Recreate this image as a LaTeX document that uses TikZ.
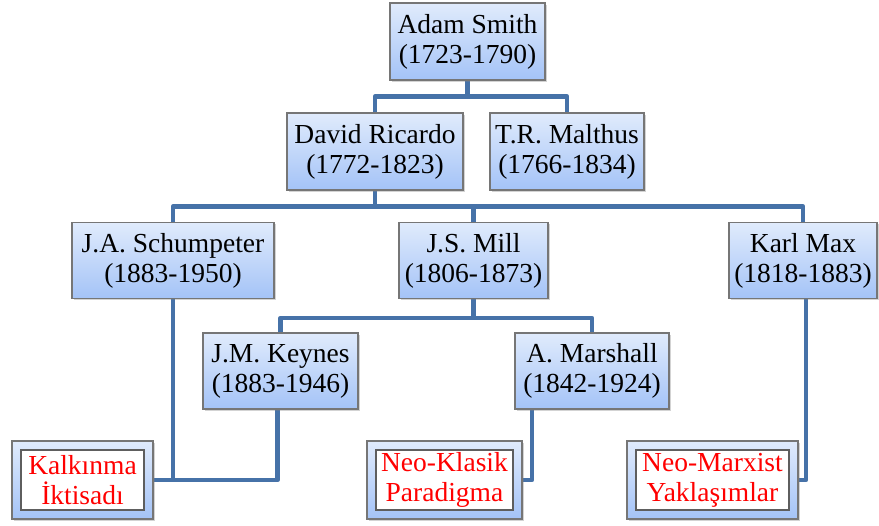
\documentclass[tikz,border=0pt]{standalone}
\usepackage{fontspec}
\setmainfont{Liberation Serif}
\usetikzlibrary{shadows,backgrounds}
\definecolor{conn}{RGB}{70,114,168}
\definecolor{boxtop}{RGB}{224,235,252}
\definecolor{boxbot}{RGB}{164,195,247}
\definecolor{boxedge}{RGB}{118,118,118}
\tikzset{
  person/.style={rectangle, draw=boxedge, line width=1.1pt, top color=boxtop, bottom color=boxbot,
    drop shadow={shadow xshift=2pt, shadow yshift=-2pt, opacity=0.35},
    align=center, inner sep=0pt, minimum height=77pt,
    font=\fontsize{27.5}{30}\selectfont},
  school/.style={person, text=red, minimum height=78pt,
    path picture={\draw[fill=white, draw=boxedge!80!black, line width=1.3pt]
      ([shift={(9pt,-9pt)}]path picture bounding box.north west) rectangle
      ([shift={(-9pt,9pt)}]path picture bounding box.south east);}},
  link/.style={draw=conn, line width=4.5pt, line join=round}
}
\begin{document}
\begin{tikzpicture}[x=1pt,y=-1pt]
\useasboundingbox (0,0) rectangle (879,526);
\node[person, minimum width=155pt] (smith) at (467.5,41.5) {Adam Smith\\(1723-1790)};
\node[person, minimum width=176pt] (ricardo) at (375,151.5) {David Ricardo\\(1772-1823)};
\node[person, minimum width=154pt] (malthus) at (567,151.5) {T.R. Malthus\\(1766-1834)};
\node[person, minimum width=202pt, minimum height=76pt] (schump) at (173,260.5) {J.A. Schumpeter\\(1883-1950)};
\node[person, minimum width=149pt, minimum height=76pt] (mill) at (473.5,260.5) {J.S. Mill\\(1806-1873)};
\node[person, minimum width=148pt, minimum height=76pt] (karl) at (803,260.5) {Karl Max\\(1818-1883)};
\node[person, minimum width=155pt, minimum height=76pt] (keynes) at (280.5,371) {J.M. Keynes\\(1883-1946)};
\node[person, minimum width=154pt, minimum height=76pt] (marshall) at (592,371) {A. Marshall\\(1842-1924)};
\node[school, minimum width=141pt] (kalk) at (82.5,480) {Kalkınma\\İktisadı};
\node[school, minimum width=155pt] (neok) at (444.5,480) {Neo-Klasik\\Paradigma};
\node[school, minimum width=171pt] (neom) at (712.5,480) {Neo-Marxist\\Yaklaşımlar};
\begin{scope}[on background layer]
\draw[link] (smith.south) -- ++(0,16) -| (ricardo.north);
\draw[link] (smith.south) -- ++(0,16) -| (malthus.north);
\draw[link] (ricardo.south) -- ++(0,16) -| (schump.north);
\draw[link] (ricardo.south) -- ++(0,16) -| (mill.north);
\draw[link] (ricardo.south) -- ++(0,16) -| (karl.north);
\draw[link] (mill.south) -- ++(0,19) -| (keynes.north);
\draw[link] (mill.south) -- ++(0,19) -| (marshall.north);
\draw[link] (schump.south) |- (kalk.east);
\draw[link] ([xshift=-3pt]keynes.south) |- (kalk.east);
\draw[link] ([xshift=-60pt]marshall.south) |- (neok.east);
\draw[link] ([xshift=3pt]karl.south) |- (neom.east);
\end{scope}
\end{tikzpicture}
\end{document}
